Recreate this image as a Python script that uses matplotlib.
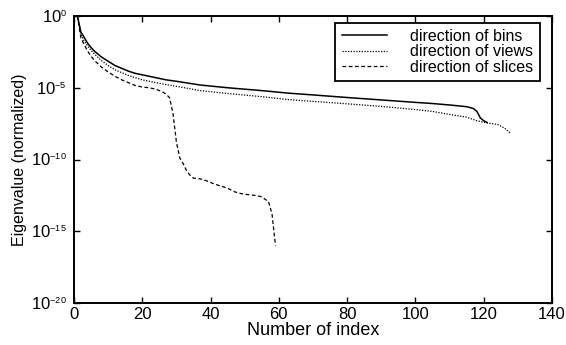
import numpy as np
import matplotlib
matplotlib.use("Agg")
import matplotlib.pyplot as plt
import matplotlib._mathtext as _mt
from matplotlib.ticker import NullLocator, FixedLocator

_mt.SHRINK_FACTOR = 0.55

plt.rcParams['font.family'] = ['Liberation Sans', 'DejaVu Sans']
plt.rcParams['mathtext.fontset'] = 'custom'
plt.rcParams['mathtext.rm'] = 'Liberation Sans'
plt.rcParams['mathtext.it'] = 'Liberation Sans'
plt.rcParams['mathtext.bf'] = 'Liberation Sans'

# index and log10(eigenvalue)
bins_idx = [1, 2, 3, 4, 5, 6, 8, 10, 12, 14, 16, 18, 20, 23, 27, 30, 37, 45, 55, 63, 70, 80, 90,
            100, 105, 110, 115, 117, 118, 119, 120, 121]
bins_exp = [0, -1.1, -1.5, -1.9, -2.2, -2.45, -2.85, -3.15, -3.45, -3.65, -3.85, -4.0, -4.1, -4.25,
            -4.45, -4.55, -4.81, -5.0, -5.2, -5.38, -5.5, -5.68, -5.85, -6.02, -6.1, -6.2, -6.32,
            -6.45, -6.65, -7.1, -7.3, -7.42]

views_idx = [1, 2, 3, 4, 5, 6, 8, 10, 12, 14, 16, 18, 20, 23, 27, 30, 37, 45, 55, 63, 70, 80, 90,
             100, 105, 111, 115, 118, 121, 124, 126, 128]
views_exp = [0, -1.3, -1.75, -2.1, -2.4, -2.65, -3.1, -3.45, -3.75, -3.95, -4.15, -4.3, -4.45, -4.6,
             -4.78, -4.9, -5.2, -5.4, -5.62, -5.83, -5.95, -6.12, -6.3, -6.52, -6.65, -6.9, -7.05,
             -7.3, -7.45, -7.55, -7.8, -8.2]

slices_idx = [1, 2, 3, 4, 5, 6, 8, 10, 12, 14, 16, 18, 20, 22, 24, 26, 27, 28, 29, 30, 31, 32, 33,
              34, 35, 37, 39, 41, 43, 45, 47, 49, 51, 53, 55, 57, 58, 59]
slices_exp = [0, -1.5, -2.0, -2.45, -2.8, -3.1, -3.55, -3.9, -4.2, -4.45, -4.65, -4.85, -4.95, -5.0,
              -5.1, -5.3, -5.45, -5.7, -6.8, -8.8, -9.9, -10.3, -10.8, -11.1, -11.3, -11.35, -11.5,
              -11.7, -11.85, -12.0, -12.25, -12.38, -12.45, -12.5, -12.6, -12.95, -13.8, -16.0]

labels = ['direction of bins', 'direction of views', 'direction of slices']
x_ticks = [0, 20, 40, 60, 80, 100, 120, 140]
y_ticks = [1e-20, 1e-15, 1e-10, 1e-5, 1e0]
y_ticklabels = [r'$10^{-20}$', r'$10^{-15}$', r'$10^{-10}$', r'$10^{-5}$', r'$10^{0}$']

fig = plt.figure(figsize=(5.66, 3.45), dpi=100)
ax = fig.add_axes([74/566, 1-303/345, (552-74)/566, (303-16)/345])

ax.semilogy(bins_idx, 10.0**np.array(bins_exp), color='black', lw=1.1, ls='-', label=labels[0])
ax.semilogy(views_idx, 10.0**np.array(views_exp), color='black', lw=0.9, ls=(0, (1, 1.2)), label=labels[1])
ax.semilogy(slices_idx, 10.0**np.array(slices_exp), color='black', lw=0.9, ls=(0, (3, 2)), label=labels[2])

ax.set_xlim(0, 140)
ax.set_ylim(1e-20, 1)
ax.xaxis.set_major_locator(FixedLocator(x_ticks))
ax.yaxis.set_major_locator(FixedLocator(y_ticks))
ax.yaxis.set_minor_locator(NullLocator())
ax.set_yticklabels(y_ticklabels)
ax.tick_params(direction='in', top=True, right=True, length=4, width=1, labelsize=12, colors='black')
ax.tick_params(axis='x', pad=3)
ax.tick_params(axis='y', pad=5)
for s in ax.spines.values():
    s.set_linewidth(1.4)

ax.set_xlabel('Number of index', fontsize=13, labelpad=0)
ax.set_ylabel('Eigenvalue (normalized)', fontsize=11.5, labelpad=3)

leg = ax.legend(loc='upper right', fontsize=11.5, borderaxespad=0,
                frameon=True, fancybox=False, edgecolor='black', framealpha=1,
                handlelength=2.8, handletextpad=1.5, borderpad=0.4, labelspacing=0.02)
leg.set_bbox_to_anchor(((540-74)/(552-74), 1-(22.7-16)/(303-16)), transform=ax.transAxes)
leg.get_frame().set_linewidth(1.3)

fig.savefig('out.png', dpi=100)
